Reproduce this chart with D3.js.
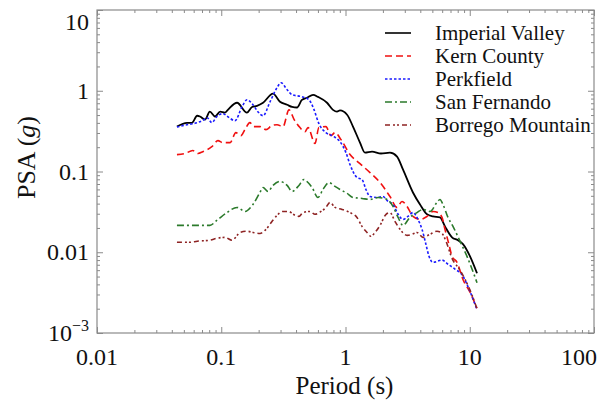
<!DOCTYPE html>
<html>
<head>
<meta charset="utf-8">
<script src="https://cdn.jsdelivr.net/npm/d3@7"></script>
<style>
  body { margin: 0; background: #fff; }
  svg { display: block; }
</style>
</head>
<body>
<div id="chart"></div>
<script>
// ─── Data (period in s, PSA in g) ─────────────────────────────────────────
const imperialValley = [
  [0.044,0.36],[0.053,0.40],[0.058,0.40],[0.064,0.49],[0.0675,0.48],[0.074,0.44],[0.081,0.55],
  [0.089,0.48],[0.098,0.55],[0.107,0.535],[0.113,0.58],[0.134,0.71],[0.161,0.535],[0.177,0.63],
  [0.194,0.65],[0.217,0.71],[0.261,0.92],[0.297,0.73],[0.339,0.67],[0.372,0.63],[0.407,0.62],
  [0.446,0.77],[0.49,0.82],[0.548,0.89],[0.60,0.84],[0.71,0.71],[0.793,0.58],[0.854,0.55],
  [0.903,0.57],[1.03,0.505],[1.149,0.36],[1.308,0.228],[1.435,0.171],[1.635,0.176],[1.93,0.167],
  [2.28,0.171],[2.6,0.153],[2.9,0.106],[3.49,0.055],[3.98,0.039],[4.53,0.0295],[5.06,0.0278],
  [5.76,0.027],[6.32,0.0209],[7.2,0.0153],[8.04,0.0141],[8.82,0.0126],[10.05,0.0089],[11.44,0.0055]
];
const kernCounty = [
  [0.044,0.162],[0.051,0.167],[0.059,0.182],[0.065,0.167],[0.071,0.176],[0.084,0.203],[0.094,0.241],
  [0.103,0.228],[0.118,0.228],[0.131,0.303],[0.144,0.278],[0.155,0.33],[0.170,0.403],[0.183,0.36],
  [0.205,0.36],[0.229,0.33],[0.256,0.37],[0.281,0.38],[0.314,0.36],[0.351,0.58],[0.386,0.44],
  [0.43,0.35],[0.472,0.31],[0.499,0.35],[0.568,0.222],[0.611,0.35],[0.696,0.36],[0.764,0.278],
  [0.823,0.303],[0.92,0.248],[1.087,0.162],[1.308,0.125],[1.575,0.097],[1.896,0.073],[2.28,0.049],
  [2.6,0.036],[2.85,0.0426],[3.13,0.037],[3.49,0.0278],[3.98,0.0255],[4.53,0.0278],[5.06,0.032],
  [5.55,0.031],[5.98,0.027],[6.32,0.0192],[6.8,0.0125],[7.2,0.0089],[7.9,0.0075],[8.82,0.0046],
  [10.05,0.0032],[11.4,0.00203]
];
const perkfield = [
  [0.044,0.355],[0.053,0.38],[0.059,0.39],[0.073,0.44],[0.077,0.464],[0.084,0.403],[0.092,0.477],
  [0.103,0.52],[0.113,0.477],[0.129,0.426],[0.147,0.634],[0.161,0.774],[0.18,0.672],[0.197,0.55],
  [0.217,0.491],[0.247,0.73],[0.281,1.09],[0.303,1.255],[0.339,1.03],[0.372,0.893],[0.446,0.843],
  [0.508,0.774],[0.558,0.583],[0.611,0.391],[0.696,0.303],[0.808,0.27],[0.903,0.234],[1.009,0.171],
  [1.087,0.122],[1.237,0.0843],[1.358,0.0797],[1.46,0.0599],[1.575,0.049],[1.79,0.0477],[2.0,0.049],
  [2.2,0.0426],[2.41,0.0391],[2.65,0.0295],[2.9,0.0255],[3.18,0.0278],[3.49,0.031],[3.83,0.0255],
  [4.13,0.0192],[4.44,0.0125],[4.7,0.0089],[5.06,0.0075],[5.98,0.008],[6.68,0.0071],[7.6,0.0062],
  [8.82,0.00505],[9.86,0.0035],[11.4,0.00198]
];
const sanFernando = [
  [0.044,0.0215],[0.081,0.0215],[0.092,0.0248],[0.111,0.031],[0.134,0.0359],[0.155,0.032],[0.18,0.0391],
  [0.205,0.055],[0.217,0.0634],[0.238,0.0566],[0.261,0.0672],[0.297,0.0753],[0.339,0.0672],[0.372,0.0566],
  [0.422,0.0672],[0.463,0.0797],[0.499,0.073],[0.538,0.0634],[0.60,0.0477],[0.659,0.0599],[0.736,0.073],
  [0.823,0.0653],[0.903,0.0599],[1.03,0.0535],[1.149,0.0477],[1.358,0.0464],[1.575,0.0451],[1.83,0.0477],
  [2.16,0.0451],[2.41,0.037],[2.65,0.027],[2.9,0.0215],[3.30,0.027],[3.76,0.031],[4.2,0.0339],[4.79,0.032],
  [5.45,0.0415],[5.76,0.0451],[6.09,0.0391],[6.68,0.027],[7.33,0.0209],[8.35,0.0137],[9.5,0.0089],[11.44,0.0042]
];
const borregoMountain = [
  [0.044,0.0133],[0.056,0.0133],[0.064,0.0137],[0.081,0.0141],[0.092,0.0149],[0.107,0.0153],[0.122,0.0141],
  [0.142,0.0176],[0.161,0.0182],[0.18,0.0176],[0.205,0.0171],[0.229,0.0192],[0.256,0.0241],[0.281,0.0286],
  [0.314,0.032],[0.351,0.032],[0.379,0.0295],[0.422,0.0278],[0.455,0.031],[0.518,0.032],[0.568,0.0295],
  [0.635,0.032],[0.696,0.0359],[0.75,0.0415],[0.823,0.0359],[0.937,0.0339],[1.087,0.031],[1.237,0.027],
  [1.358,0.0209],[1.49,0.0176],[1.6,0.0158],[1.73,0.0176],[1.896,0.0215],[2.12,0.0295],[2.28,0.031],
  [2.5,0.0241],[2.75,0.0192],[3.13,0.0162],[3.43,0.0167],[3.76,0.0176],[4.2,0.0153],[4.79,0.0167],
  [5.45,0.0182],[5.98,0.0171],[6.44,0.0137],[7.2,0.0084],[8.35,0.006],[10.05,0.0034],[11.4,0.00203]
];

const seriesNames = ['Imperial Valley', 'Kern County', 'Perkfield', 'San Fernando', 'Borrego Mountain'];
const seriesData = [imperialValley, kernCounty, perkfield, sanFernando, borregoMountain];

const xTicks = [0.01, 0.1, 1, 10, 100];
const xTickLabels = ['0.01', '0.1', '1', '10', '100'];
const yTicks = [0.001, 0.01, 0.1, 1, 10];
const yTickLabels = ['10|−3', '0.01', '0.1', '1', '10'];

// ─── Styles ───────────────────────────────────────────────────────────────
const styles = [
  { color: '#000000', dash: null },
  { color: '#f01010', dash: '7,4' },
  { color: '#1a1aff', dash: '2.5,2' },
  { color: '#2b7a2b', dash: '7,3,2,3' },
  { color: '#8e2323', dash: '5,3,2,2,2,3' }
];

const FONT = "'Liberation Serif', 'Times New Roman', serif";
const W = 599, H = 401;
const margin = { top: 10, right: 5, bottom: 68, left: 97 };

const svg = d3.select('#chart').append('svg')
  .attr('width', W).attr('height', H)
  .style('background', '#fff');

const x = d3.scaleLog().domain([0.01, 100]).range([margin.left, W - margin.right]);
const y = d3.scaleLog().domain([0.001, 10]).range([H - margin.bottom, margin.top]);

const x0 = x.range()[0], x1 = x.range()[1];
const y0 = y.range()[0], y1 = y.range()[1];

// minor tick positions between decades
function minors(majors) {
  const out = [];
  for (let i = 0; i < majors.length - 1; i++) {
    for (let k = 2; k <= 9; k++) out.push(majors[i] * k);
  }
  return out;
}
const axisColor = '#8a8a8a';

function styleAxis(g) {
  g.select('.domain').remove();
  g.selectAll('line').attr('stroke', axisColor).attr('stroke-width', 1);
  g.selectAll('text').remove();
}

// ticks (inward) on all four sides
[[d3.axisBottom(x), `translate(0,${y0})`, xTicks],
 [d3.axisTop(x), `translate(0,${y1})`, xTicks],
 [d3.axisLeft(y), `translate(${x0},0)`, yTicks],
 [d3.axisRight(y), `translate(${x1},0)`, yTicks]
].forEach(([ax, tr, majors]) => {
  svg.append('g').attr('transform', tr)
    .call(ax.tickValues(majors).tickSize(-6).tickFormat(''))
    .call(styleAxis);
  svg.append('g').attr('transform', tr)
    .call(ax.tickValues(minors(majors)).tickSize(-3).tickFormat(''))
    .call(styleAxis);
});

// frame
svg.append('rect')
  .attr('x', x0).attr('y', y1)
  .attr('width', x1 - x0).attr('height', y0 - y1)
  .attr('fill', 'none').attr('stroke', axisColor).attr('stroke-width', 1.2);

// x tick labels
svg.selectAll('.xlab').data(xTicks).join('text')
  .attr('class', 'xlab')
  .attr('x', (d, i) => i === xTicks.length - 1 ? W - 2 : x(d))
  .attr('y', y0 + 32)
  .attr('text-anchor', (d, i) => i === xTicks.length - 1 ? 'end' : 'middle')
  .style('font-family', FONT)
  .attr('font-size', 24).attr('fill', '#111')
  .text((d, i) => xTickLabels[i]);

// y tick labels
const yl = svg.selectAll('.ylab').data(yTicks).join('text')
  .attr('class', 'ylab')
  .attr('x', x0 - 8)
  .attr('y', (d, i) => y(d) + (i === yTicks.length - 1 ? 20 : 8))
  .attr('text-anchor', 'end')
  .style('font-family', FONT)
  .attr('font-size', 24).attr('fill', '#111');
yl.each(function (d, i) {
  const parts = yTickLabels[i].split('|');
  const t = d3.select(this);
  t.append('tspan').text(parts[0]);
  if (parts[1]) t.append('tspan').attr('dy', -10).attr('font-size', 16).text(parts[1]);
});

// axis titles
svg.append('text')
  .attr('x', (x0 + x1) / 2 - 1).attr('y', H - 7)
  .attr('text-anchor', 'middle').attr('font-size', 25).attr('fill', '#111')
  .style('font-family', FONT)
  .text('Period (s)');

const yt = svg.append('text')
  .attr('transform', `translate(35,${(y0 + y1) / 2 - 14}) rotate(-90)`)
  .attr('text-anchor', 'middle').attr('font-size', 26).attr('fill', '#111')
  .style('font-family', FONT);
yt.append('tspan').text('PSA (');
yt.append('tspan').attr('font-style', 'italic').text('g');
yt.append('tspan').text(')');

// lines
const line = d3.line()
  .x(d => x(d[0]))
  .y(d => y(d[1]))
  .curve(d3.curveMonotoneX);

seriesData.forEach((data, i) => {
  svg.append('path')
    .datum(data)
    .attr('d', line)
    .attr('fill', 'none')
    .attr('stroke', styles[i].color)
    .attr('stroke-width', i === 0 ? 1.8 : 1.6)
    .attr('stroke-dasharray', styles[i].dash);
});

// legend
const legend = svg.append('g').attr('transform', 'translate(385,33)');
seriesNames.forEach((name, i) => {
  const g = legend.append('g').attr('transform', `translate(0,${i * 23})`);
  g.append('line')
    .attr('x1', 0).attr('x2', 26).attr('y1', 0).attr('y2', 0)
    .attr('stroke', styles[i].color).attr('stroke-width', 1.6)
    .attr('stroke-dasharray', styles[i].dash);
  g.append('text')
    .attr('x', 50).attr('y', 7)
    .style('font-family', FONT)
    .attr('font-size', 21).attr('fill', '#111')
    .text(name);
});
</script>
</body>
</html>
